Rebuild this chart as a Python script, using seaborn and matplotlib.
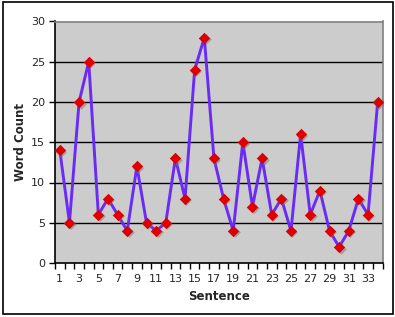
import numpy as np
import pandas as pd
import seaborn as sns
import matplotlib
matplotlib.use("Agg")
import matplotlib.pyplot as plt
from matplotlib.patches import Rectangle

sentences = list(range(1, 35))
word_counts = [14, 5, 20, 25, 6, 8, 6, 4, 12, 5, 4, 5, 13, 8, 24, 28, 13, 8, 4,
               15, 7, 13, 6, 8, 4, 16, 6, 9, 4, 2, 4, 8, 6, 20]
y_ticks = [0, 5, 10, 15, 20, 25, 30]
x_labels = [str(s) for s in sentences if s % 2 == 1]

df = pd.DataFrame({"Sentence": sentences, "Word Count": word_counts})

sns.set_theme(style="white")
plt.rcParams["font.family"] = ["DejaVu Sans"]

fig = plt.figure(figsize=(3.95, 3.17), dpi=100)
ax = fig.add_axes([55 / 395, 1 - 263 / 317, (382.5 - 55) / 395, (263 - 21.5) / 317])
ax.set_facecolor("#CCCCCC")

for v in y_ticks[1:-1]:
    ax.axhline(v, color="black", lw=1.0, zorder=1)

sns.lineplot(data=df, x="Sentence", y="Word Count", ax=ax, color="#6A2BF5",
             lw=2.1, zorder=2)
# shadow of markers
ax.scatter(np.array(sentences) + 0.15, np.array(word_counts) - 0.2, marker="D",
           s=30, color="#777777", alpha=0.5, zorder=3, linewidths=0)
sns.scatterplot(data=df, x="Sentence", y="Word Count", ax=ax, marker="D", s=34,
                color="#DD0000", edgecolor="#DD0000", linewidth=0, zorder=4)

ax.set_xlim(0.5, 34.5)
ax.set_ylim(0, 30)
ax.set_yticks(y_ticks)
ax.set_yticklabels([str(v) for v in y_ticks], fontsize=8)
ax.set_xticks([s for s in sentences if s % 2 == 1])
ax.set_xticklabels(x_labels, fontsize=8)
ax.set_xticks(np.arange(0.5, 35, 1), minor=True)
ax.tick_params(axis="x", which="major", length=0, pad=8)
ax.tick_params(axis="x", which="minor", length=4, width=1, color="black", direction="out", bottom=True)
ax.tick_params(axis="y", which="major", length=4, width=1, color="black", direction="out", left=True, pad=3)

ax.set_xlabel("Sentence", fontsize=8.5, fontweight="bold", labelpad=4)
ax.set_ylabel("Word Count", fontsize=8.5, fontweight="bold", labelpad=3)

for side in ["left", "bottom"]:
    ax.spines[side].set_color("black")
    ax.spines[side].set_linewidth(1.2)
for side in ["top", "right"]:
    ax.spines[side].set_color("#808080")
    ax.spines[side].set_linewidth(1.2)

fig.patches.append(Rectangle((2.5 / 395, 3 / 317), 390 / 395, 312 / 317,
                             transform=fig.transFigure, fill=False,
                             edgecolor="black", lw=1.2))

fig.savefig("out.png", dpi=100)
